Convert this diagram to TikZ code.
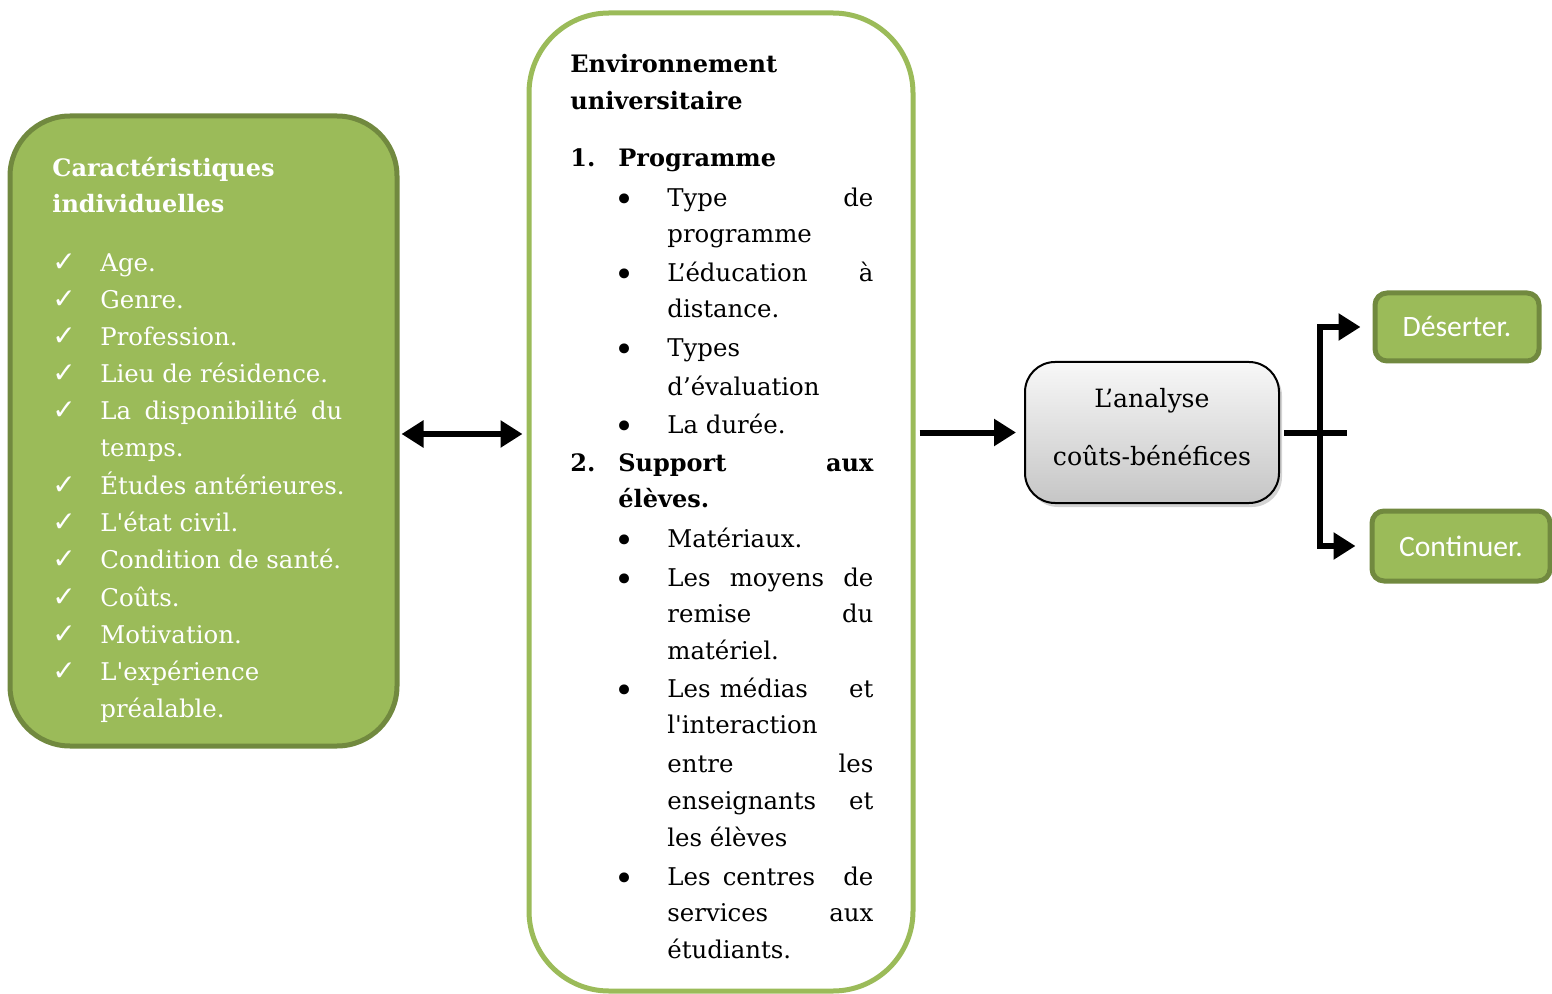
\documentclass[tikz,border=0pt]{standalone}
\usepackage{fontspec}
\setmainfont{DejaVu Serif}[Ligatures=TeXOff]
\newfontfamily\calibri{Carlito}
\newfontfamily\symb{DejaVu Sans}
\usetikzlibrary{positioning,calc,shadows,arrows.meta}

\definecolor{vert}{HTML}{9BBB59}
\definecolor{vertfonce}{HTML}{71893F}

\begin{document}
\begin{tikzpicture}[x=0.5pt,y=-0.5pt,
    ligne/.style={anchor=base west, inner sep=0pt, font=\fontsize{12.2}{18.5}\selectfont},
    titre/.style={ligne, font=\fontsize{12}{18.5}\selectfont\bfseries},
    coche/.style={anchor=base west, inner sep=0pt, text=white, font=\symb\fontsize{14}{18}\selectfont},
    puce/.style={anchor=base, inner sep=0pt, yshift=-2.5pt, font=\fontsize{17}{18}\selectfont},
    fleche/.style={line width=3pt, -{Triangle[length=11pt,width=13pt]}},
    dfleche/.style={line width=3pt, {Triangle[length=11pt,width=13pt]}-{Triangle[length=11pt,width=13pt]}},
    issue/.style={draw=vertfonce, fill=vert, line width=2.5pt, rounded corners=6pt, text=white,
                  font=\calibri\fontsize{14.8}{16}\selectfont}]
\useasboundingbox (0,0) rectangle (1552,994);

% boites
\node[draw=vertfonce, fill=vert, line width=2.5pt, rounded corners=30pt,
      minimum width=193.5pt, minimum height=315pt] (indiv) at (203.5,431) {};
\node[draw=vert, fill=white, line width=2.5pt, rounded corners=40pt,
      minimum width=192pt, minimum height=489pt] (env) at (721,502) {};
\node[draw=black, line width=1pt, rounded corners=15pt, top color=gray!6, bottom color=gray!45,
      drop shadow={opacity=0.35, shadow xshift=1.5pt, shadow yshift=-2pt},
      minimum width=127pt, minimum height=70.5pt] (analyse) at (1152,432.5) {};
\node[ligne, anchor=base, font=\fontsize{12.6}{14}\selectfont] (an1) at (1152,408) {L’analyse};
\node[ligne, anchor=base, font=\fontsize{12.6}{14}\selectfont] (an2) at (1152,466) {coûts-bénéfices};
\node[issue, minimum width=82pt, minimum height=34pt] (deserter) at (1457,327) {Déserter.};
\node[issue, minimum width=89pt, minimum height=35pt] (continuer) at (1461,546) {Continuer.};

% caracteristiques individuelles
\node[titre, text=white] (t1) at (52,177) {Caractéristiques};
\node[titre, text=white] (t2) at (52,213) {individuelles};
\foreach \y/\t [count=\i] in {272/Age., 309/Genre., 346/Profession., 383/Lieu de résidence.,
    420/{\makebox[121pt][s]{La disponibilité du}}, 494/Études antérieures., 531/L'état civil.,
    568/Condition de santé., 606/Coûts., 643/Motivation., 680/L'expérience}
  {
  \node[coche] (c\i) at (52,\y) {✓};
  \node[ligne, text=white] (g\i) at (100,\y) {\t};
  }
\node[ligne, text=white] (g12) at (100,457) {temps.};
\node[ligne, text=white] (g13) at (100,717) {préalable.};

% environnement universitaire
\node[titre] (e1) at (570,73) {Environnement};
\node[titre] (e2) at (570,110) {universitaire};
\node[titre] (n1) at (570,167) {1.};
\node[titre] (p1) at (618,167) {Programme};
\node[titre] (n2) at (570,471) {2.};
\node[titre] (p2) at (618,471) {\makebox[127.5pt][s]{Support aux}};
\node[titre] (p3) at (618,507) {élèves.};
\foreach \y [count=\i] in {207,282,357,433,547,586,697,885}
  \node[puce] (b\i) at (625,\y) {•};
\foreach \y/\t [count=\i] in {207/{\makebox[103pt][s]{Type de}}, 243/programme,
    282/{\makebox[103pt][s]{L’éducation à}}, 318/distance., 357/Types, 395/d’évaluation,
    433/La durée., 547/Matériaux., 586/{\makebox[103pt][s]{Les moyens de}},
    622/{\makebox[103pt][s]{remise du}}, 659/matériel., 697/{\makebox[103pt][s]{Les médias\hspace{16pt} et}},
    733/l'interaction, 772/{\makebox[103pt][s]{entre les}}, 809/{\makebox[103pt][s]{enseignants et}},
    846/les élèves, 885/{\makebox[103pt][s]{Les centres\hspace{8pt} de}},
    921/{\makebox[103pt][s]{services aux}}, 958/étudiants.}
  \node[ligne] (m\i) at (667,\y) {\t};

% fleches
\draw[dfleche, shorten <=1pt, shorten >=2pt] ([yshift=-1.5pt]indiv.east) -- ([yshift=-1.5pt]indiv.east -| env.west);
\draw[fleche, shorten <=2pt, shorten >=4pt] (analyse.west -| env.east) -- (analyse.west);
\coordinate (fourche) at (1320,432.5);
\draw[line width=3pt, shorten <=2pt] (analyse.east) -- ++(67,0);
\draw[fleche, shorten >=6pt] (fourche) |- (deserter.west);
\draw[fleche, shorten >=7pt] (fourche) |- (continuer.west);
\end{tikzpicture}
\end{document}
